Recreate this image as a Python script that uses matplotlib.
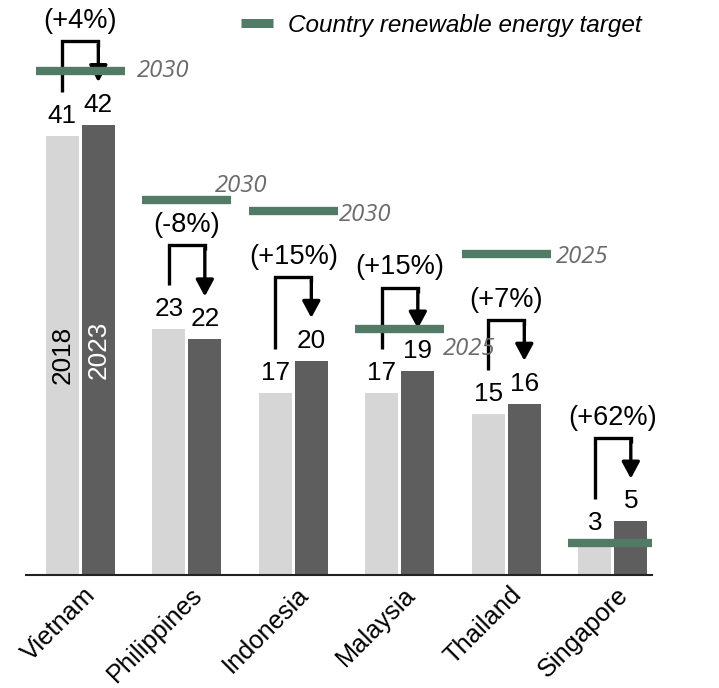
import matplotlib
matplotlib.use("Agg")
import matplotlib.pyplot as plt
import matplotlib.transforms as mtransforms
from matplotlib.lines import Line2D
import numpy as np

# Renewable energy share (%) by country
countries = ["Vietnam", "Philippines", "Indonesia", "Malaysia", "Thailand", "Singapore"]
share_2018 = [41, 23, 17, 17, 15, 3]
share_2023 = [42, 22, 20, 19, 16, 5]
change_labels = ["(+4%)", "(-8%)", "(+15%)", "(+15%)", "(+7%)", "(+62%)"]
target_values = [47, 35, 34, 23, 30, 3]
target_years = ["2030", "2030", "2030", "2025", "2025", "2030"]

# placement of each target-year tag relative to the right end of its target bar (points)
year_offsets = [(8.6, 0), (-12, 10), (1, -3), (-1, -15), (4, -2.5), (3.5, -3)]

LIGHT = "#d6d6d6"
DARK = "#5e5e5e"
GREEN = "#517b66"
YEAR_GREY = "#6b6b6b"
FS_VAL = 18.8
FS_PCT = 19.6
FS_TICK = 18.3

plt.rcParams["font.family"] = ["Liberation Sans", "DejaVu Sans"]

fig = plt.figure(figsize=(7.19, 6.88), dpi=100)
ax = fig.add_axes([0.0362, 0.1642, 0.8706, 0.8358])

x = np.arange(len(countries))
w = 0.31
off = 0.169
ax.bar(x - off, share_2018, w, color=LIGHT, zorder=2)
ax.bar(x + off, share_2023, w, color=DARK, zorder=2)

# value labels above bars
for xi, v1, v2 in zip(x, share_2018, share_2023):
    for xx, v in ((xi - off, v1), (xi + off, v2)):
        ax.annotate(f"{v}", xy=(xx, v), xytext=(0, 9.4), textcoords="offset points",
                    ha="center", va="baseline", fontsize=FS_VAL, zorder=5)

# year tags inside the first pair of bars
ax.text(x[0] - off, share_2018[0] / 2, "2018", rotation=90, ha="center", va="center",
        fontsize=FS_VAL, color="black", zorder=5)
ax.text(x[0] + off, share_2023[0] / 2, "2023", rotation=90, ha="center", va="center",
        fontsize=FS_VAL, color="white", zorder=5)

# change brackets with arrows
for xi, v1, v2, lab in zip(x, share_2018, share_2023, change_labels):
    x1, x2 = xi - off, xi + off
    top = max(v1, v2) + 7.8
    lb = v1 + 4.1
    tip = v2 + 4.0
    ax.plot([x1, x1, x2, x2], [lb, top, top, top - 0.5], color="black", lw=2.4,
            solid_joinstyle="miter", solid_capstyle="butt", zorder=3)
    ax.annotate("", xy=(x2, tip), xytext=(x2, top - 0.3),
                arrowprops=dict(arrowstyle="-|>,head_length=0.5,head_width=0.27",
                                lw=2.4, color="black", shrinkA=0, shrinkB=0,
                                mutation_scale=20),
                zorder=3)
    ax.text(xi, top + 1.9, lab, ha="center", va="center", fontsize=FS_PCT, zorder=5)

# renewable energy targets
half = 0.418
ax.hlines(target_values, x - half, x + half, colors=GREEN, lw=6, zorder=4)
for xi, t, yr, (dx, dy) in zip(x, target_values, target_years, year_offsets):
    ax.annotate(yr, xy=(xi + half, t), xytext=(dx, dy), textcoords="offset points",
                ha="left", va="center", fontsize=17.2, style="italic",
                family=["Open Sans", "DejaVu Sans"], color=YEAR_GREY, zorder=5)

ax.set_xlim(-0.51, 5.368)
ax.set_ylim(0, 53.66)
for s in ("left", "right", "top"):
    ax.spines[s].set_visible(False)
ax.spines["bottom"].set_color("#222222")
ax.spines["bottom"].set_linewidth(1.5)
ax.set_yticks([])
ax.set_xticks(x)
ax.set_xticklabels(countries, rotation=45, ha="right", rotation_mode="anchor",
                   fontsize=FS_TICK)
ax.tick_params(axis="x", length=0, pad=6)
shift = mtransforms.ScaledTranslation(3 / 100, 1 / 100, fig.dpi_scale_trans)
for lbl in ax.get_xticklabels():
    lbl.set_transform(lbl.get_transform() + shift)

handle = Line2D([], [], color=GREEN, lw=6.5, solid_capstyle="butt")
fig.legend([handle], ["Country renewable energy target"], loc="center left",
           bbox_to_anchor=(240.5 / 719, 1 - 25.5 / 688), frameon=False,
           prop=dict(style="italic", size=17.5), handlelength=1.35,
           handletextpad=0.6, borderpad=0, borderaxespad=0)

fig.savefig("out.png", dpi=100)
